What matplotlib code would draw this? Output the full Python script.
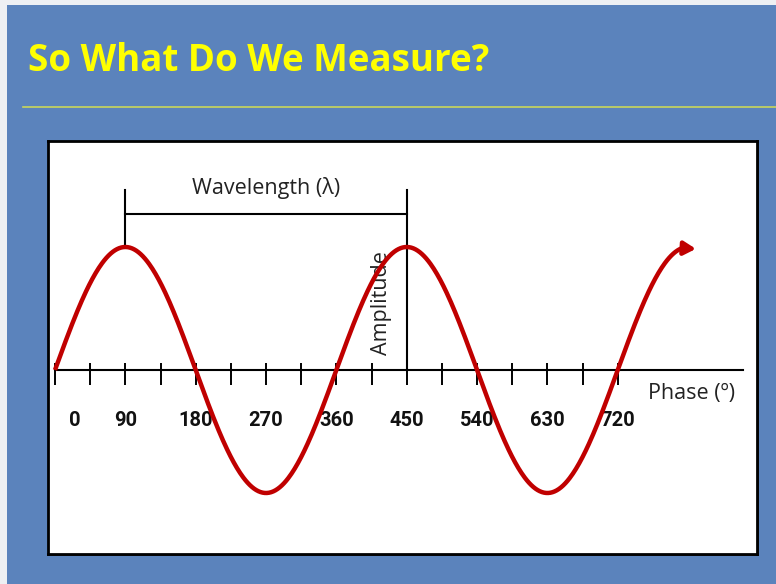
import numpy as np
import matplotlib
matplotlib.use("Agg")
import matplotlib.pyplot as plt
from matplotlib.patches import Rectangle

# ---- data ----
title = "So What Do We Measure?"
tick_degrees = [0, 45, 90, 135, 180, 225, 270, 315, 360, 405, 450, 495, 540, 585, 630, 675, 720]
label_degrees = [0, 90, 180, 270, 360, 450, 540, 630, 720]
label_texts = ["0", "90", "180", "270", "360", "450", "540", "630", "720"]
amplitude = 1.0
wavelength_deg = 360
phase_start = 0
phase_end = 820
axis_end = 880
x_label = "Phase (º)"
wavelength_label = "Wavelength (λ)"
amplitude_label = "Amplitude"
wl_start, wl_end = 90, 450   # peak-to-peak span shown

W, H = 776, 584
fig = plt.figure(figsize=(W / 100, H / 100), dpi=100)
fig.patch.set_facecolor("#eef0f3")

blue = "#5b83bc"
fig.add_artist(Rectangle((7 / W, 0), 1, (H - 5) / H, transform=fig.transFigure,
                         facecolor=blue, edgecolor="none", zorder=0))
fig.text(28 / W, 1 - 61 / H, title, color="#ffff00", fontsize=26.5,
         fontweight="bold", family="Open Sans", va="center", ha="left")
fig.add_artist(plt.Line2D([23 / W, 1], [1 - 107 / H] * 2, transform=fig.transFigure,
                          color="#c9d65a", lw=1.2))

# shadow of panel
fig.add_artist(Rectangle(((48 + 2) / W, 1 - (554 + 2) / H), 709 / W, 413 / H,
                         transform=fig.transFigure, facecolor="#2a2a2a",
                         edgecolor="none", zorder=1))

px_per_deg = 0.7816
px_per_amp = 123.0
x0_px, axis_px = 55.0, 370.0
left_px, right_px, top_px, bot_px = 48, 757, 141, 554

ax = fig.add_axes([left_px / W, 1 - bot_px / H, (right_px - left_px) / W, (bot_px - top_px) / H])
ax.set_zorder(2)
ax.set_facecolor("white")
ax.set_xlim((left_px - x0_px) / px_per_deg, (right_px - x0_px) / px_per_deg)
ax.set_ylim(-(bot_px - axis_px) / px_per_amp, (axis_px - top_px) / px_per_amp)
ax.set_xticks([]); ax.set_yticks([])
for s in ax.spines.values():
    s.set_linewidth(2)
    s.set_color("black")

# phase axis
ax.plot([phase_start, axis_end], [0, 0], color="black", lw=1.5, zorder=2)
ax.vlines(tick_degrees, -15 / px_per_amp, 7 / px_per_amp, color="black", lw=1.4, zorder=2)
for d, t in zip(label_degrees, label_texts):
    off = 20 if d == 0 else 0
    ax.annotate(t, (d, -50 / px_per_amp), xytext=(off, 0), textcoords="offset pixels",
                ha="center", va="center", fontsize=14.5, fontweight="bold",
                family="Roboto", color="#111111", zorder=3)
ax.text((648 - x0_px) / px_per_deg, -23 / px_per_amp, x_label,
        ha="left", va="center", fontsize=15.5, family="Open Sans", color="#222222")

# wave
phase = np.linspace(phase_start, phase_end, 600)
wave = amplitude * np.sin(np.deg2rad(phase) * 360 / wavelength_deg)
ax.plot(phase[:-12], wave[:-12], color="#c00000", lw=3.2, solid_capstyle="butt", zorder=4)
ax.annotate("", xy=(phase[-1], wave[-1]), xytext=(phase[-14], wave[-14]),
            arrowprops=dict(arrowstyle="-|>,head_length=0.7,head_width=0.4",
                            color="#c00000", lw=3.2, shrinkA=0, shrinkB=0), zorder=4)

# wavelength bracket
top_y = (axis_px - 190) / px_per_amp
bar_y = (axis_px - 214) / px_per_amp
ax.plot([wl_start, wl_start], [amplitude, top_y], color="black", lw=1.5, zorder=3)
ax.plot([wl_end, wl_end], [0, top_y], color="black", lw=1.5, zorder=3)
ax.plot([wl_start, wl_end], [bar_y, bar_y], color="black", lw=1.5, zorder=3)
ax.text((wl_start + wl_end) / 2, bar_y + 26 / px_per_amp, wavelength_label, ha="center",
        va="center", fontsize=15.5, family="Open Sans", color="#222222")
ax.text(wl_end - 25 / px_per_deg, amplitude / 2 + 5 / px_per_amp, amplitude_label,
        rotation=90, ha="center", va="center", fontsize=15.5, family="Open Sans", color="#222222")

fig.savefig("out.png", dpi=100, facecolor=fig.get_facecolor())
